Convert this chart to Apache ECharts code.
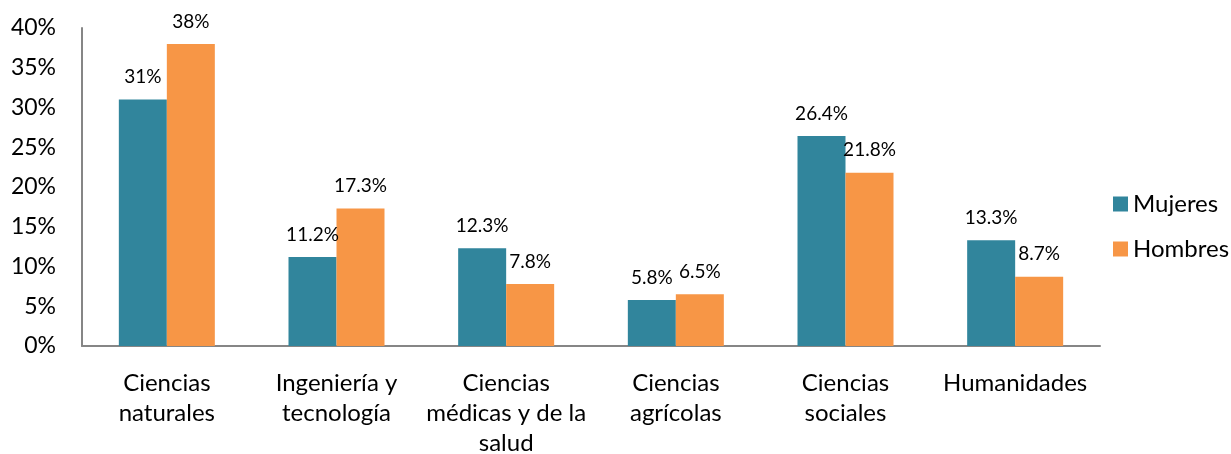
<!DOCTYPE html>
<html>
<head>
<meta charset="utf-8">
<script src="https://cdn.jsdelivr.net/npm/echarts@6/dist/echarts.min.js"></script>
<style>
    html, body {margin: 0; padding: 0; background: #fff;}
    #chart {width: 1231px; height: 454px;}
</style>
</head>
<body>
<div id="chart"></div>
<script>
const categories = ['Ciencias\nnaturales', 'Ingeniería y\ntecnología', 'Ciencias\nmédicas y de la\nsalud', 'Ciencias\nagrícolas', 'Ciencias\nsociales', 'Humanidades'];
const mujeres = [31, 11.2, 12.3, 5.8, 26.4, 13.3];
const hombres = [38, 17.3, 7.8, 6.5, 21.8, 8.7];
const yTicks = [0, 5, 10, 15, 20, 25, 30, 35, 40];

const font = 'Lato, "Open Sans", sans-serif';
const chart = echarts.init(document.getElementById('chart'));

const label = {
    show: true,
    position: 'top',
    distance: 13,
    color: '#000',
    fontFamily: font,
    fontSize: 19,
    formatter: p => p.value + '%'
};

chart.setOption({
    animation: false,
    textStyle: {fontFamily: font},
    grid: {left: 82, right: 131, top: 28, bottom: 108, outerBoundsMode: 'none', containLabel: false},
    legend: {
        orient: 'vertical',
        left: 1108,
        top: 187,
        itemWidth: 15,
        itemHeight: 15,
        itemGap: 21,
        icon: 'rect',
        textStyle: {fontSize: 24, color: '#000', fontFamily: font},
        data: ['Mujeres', 'Hombres']
    },
    xAxis: {
        type: 'category',
        data: categories,
        axisLine: {lineStyle: {color: '#868686', width: 2}},
        axisTick: {show: false},
        axisLabel: {color: '#000', fontSize: 24, lineHeight: 30, margin: 22, interval: 0, fontFamily: font}
    },
    yAxis: {
        type: 'value',
        min: yTicks[0],
        max: yTicks[yTicks.length - 1],
        interval: 5,
        splitLine: {show: false},
        axisLine: {show: true, lineStyle: {color: '#868686', width: 2}},
        axisTick: {show: false},
        axisLabel: {color: '#000', fontSize: 23, margin: 26, formatter: '{value}%', fontFamily: font}
    },
    series: [
        {
            name: 'Mujeres',
            type: 'bar',
            data: mujeres,
            barWidth: 48,
            barGap: '0%',
            itemStyle: {color: '#31859C'},
            label: label
        },
        {
            name: 'Hombres',
            type: 'bar',
            data: hombres,
            barWidth: 48,
            barGap: '0%',
            itemStyle: {color: '#F79646'},
            label: label
        }
    ]
});
</script>
</body>
</html>
